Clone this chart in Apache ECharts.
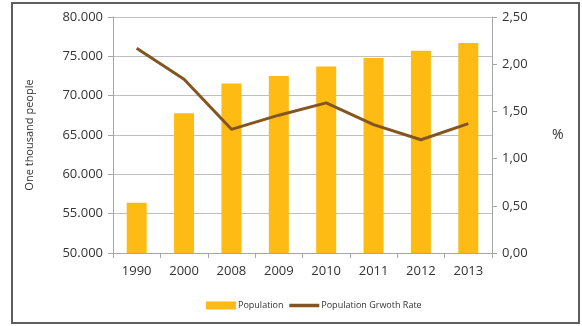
<!DOCTYPE html>
<html>
<head>
<meta charset="utf-8">
<script src="https://cdn.jsdelivr.net/npm/echarts@6/dist/echarts.min.js"></script>
<style>html,body{margin:0;padding:0;background:#fff}#c{width:582px;height:326px}</style>
</head>
<body>
<div id="c"></div>
<script>
const years = ['1990','2000','2008','2009','2010','2011','2012','2013'];
const population = [56400, 67750, 71550, 72500, 73700, 74800, 75700, 76700];
const growthRate = [2.17, 1.84, 1.31, 1.46, 1.59, 1.36, 1.20, 1.37];

const chart = echarts.init(document.getElementById('c'));
const font = 'Open Sans';
chart.setOption({
  animation: false,
  textStyle: { fontFamily: font },
  graphic: [{
    type: 'rect', silent: true,
    shape: { x: 12, y: 3, width: 567, height: 320 },
    style: { fill: 'none', stroke: '#5e5e5e', lineWidth: 2 }
  }],
  grid: { left: 113, right: 90, top: 17, bottom: 73 },
  legend: {
    left: 201, top: 296,
    itemWidth: 30, itemHeight: 8, itemGap: 4,
    textStyle: { fontSize: 9, color: '#333', fontFamily: font, padding: [0, 0, 0, -3] },
    data: [
      { name: 'Population', icon: 'rect' },
      { name: 'Population Grwoth Rate', itemStyle: { opacity: 0 },
        lineStyle: { color: '#845520', width: 3.5 } }
    ]
  },
  xAxis: {
    type: 'category', data: years,
    axisLine: { lineStyle: { color: '#a6a6a6', width: 1 } },
    axisTick: { show: true, length: 5, lineStyle: { color: '#a6a6a6' } },
    axisLabel: { color: '#333', fontSize: 13, margin: 12 }
  },
  yAxis: [{
    type: 'value', min: 50000, max: 80000, interval: 5000,
    name: 'One thousand people', nameLocation: 'middle', nameGap: 78,
    nameTextStyle: { fontSize: 11, color: '#333' },
    axisLine: { show: true, lineStyle: { color: '#a6a6a6' } },
    axisTick: { show: true, length: 5, lineStyle: { color: '#a6a6a6' } },
    splitLine: { lineStyle: { color: '#bfbfbf' } },
    axisLabel: { color: '#333', fontSize: 13, margin: 10,
      formatter: v => (v / 1000).toFixed(3) }
  }, {
    type: 'value', min: 0, max: 2.5, interval: 0.5, position: 'right',
    name: '%', nameLocation: 'middle', nameRotate: 0, nameGap: 60,
    nameTextStyle: { fontSize: 14, color: '#333' },
    axisLine: { show: true, lineStyle: { color: '#a6a6a6' } },
    axisTick: { show: true, length: 5, lineStyle: { color: '#a6a6a6' } },
    splitLine: { show: false },
    axisLabel: { color: '#333', fontSize: 13, margin: 10,
      formatter: v => v.toFixed(2).replace('.', ',') }
  }],
  series: [{
    name: 'Population', type: 'bar', data: population, barWidth: 20,
    itemStyle: { color: '#FDBB14' }
  }, {
    name: 'Population Grwoth Rate', type: 'line', yAxisIndex: 1, data: growthRate,
    symbol: 'none', lineStyle: { color: '#845520', width: 3 },
    itemStyle: { color: '#845520' }
  }]
});
</script>
</body>
</html>
